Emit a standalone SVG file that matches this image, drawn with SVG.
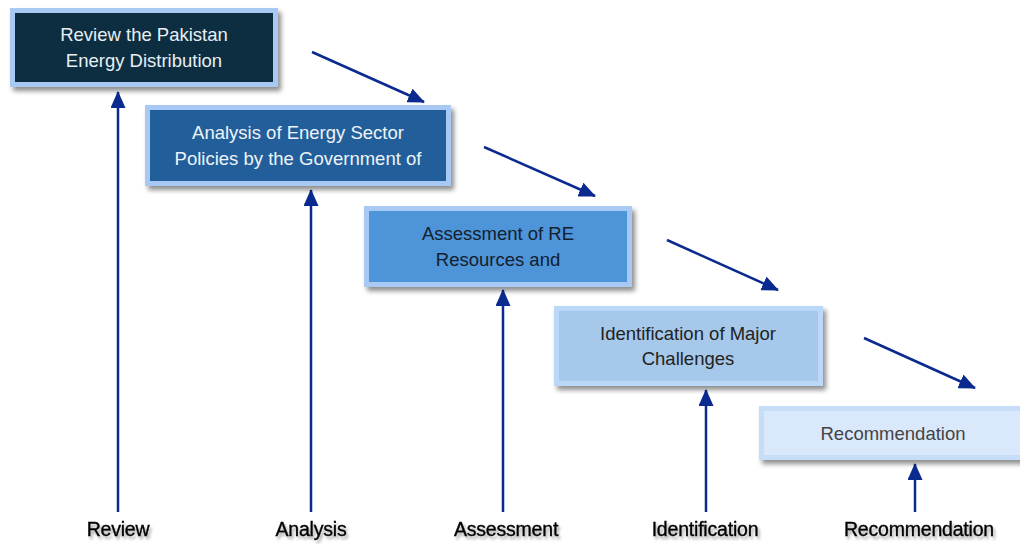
<svg xmlns="http://www.w3.org/2000/svg" width="1020" height="544" viewBox="0 0 1020 544">
<defs>
<filter id="sh" x="-10%" y="-20%" width="125%" height="150%">
<feGaussianBlur in="SourceAlpha" stdDeviation="2.5"/>
<feOffset dx="3" dy="4" result="b"/>
<feComponentTransfer><feFuncA type="linear" slope="0.45"/></feComponentTransfer>
<feMerge><feMergeNode/><feMergeNode in="SourceGraphic"/></feMerge>
</filter>
<filter id="tsh" x="-10%" y="-30%" width="130%" height="180%">
<feGaussianBlur in="SourceAlpha" stdDeviation="1.5"/>
<feOffset dx="2" dy="3"/>
<feComponentTransfer><feFuncA type="linear" slope="0.35"/></feComponentTransfer>
<feMerge><feMergeNode/><feMergeNode in="SourceGraphic"/></feMerge>
</filter>
<marker id="ah2" markerWidth="17" markerHeight="15" viewBox="0 0 17 15" refX="16" refY="7.5" orient="auto" markerUnits="userSpaceOnUse">
<path d="M0,0 L17,7.5 L0,15 z" fill="#0a2a8f"/>
</marker>
</defs>
<style>
.box{stroke-width:5;filter:url(#sh)}
.t{font-family:"Liberation Sans",Arial,sans-serif;font-size:18.5px;text-anchor:middle}
.lbl{font-family:"Liberation Sans",Arial,sans-serif;font-size:19.5px;text-anchor:middle;fill:#000;stroke:#000;stroke-width:0.35;filter:url(#tsh);letter-spacing:-0.2px}
.c{stroke:#0a2a8f;stroke-width:2.5;fill:none}
</style>
<rect width="1020" height="544" fill="#fff"/>
<g id="connectors">
<line class="c" x1="118" y1="512" x2="118" y2="92" marker-end="url(#ah2)"/>
<line class="c" x1="311" y1="512" x2="311" y2="190" marker-end="url(#ah2)"/>
<line class="c" x1="503" y1="512" x2="503" y2="290" marker-end="url(#ah2)"/>
<line class="c" x1="706" y1="512" x2="706" y2="390" marker-end="url(#ah2)"/>
<line class="c" x1="915" y1="512" x2="915" y2="464" marker-end="url(#ah2)"/>
<line class="c" x1="312" y1="52" x2="424" y2="102" marker-end="url(#ah2)"/>
<line class="c" x1="484" y1="147" x2="595" y2="196" marker-end="url(#ah2)"/>
<line class="c" x1="667" y1="240" x2="778" y2="290" marker-end="url(#ah2)"/>
<line class="c" x1="864" y1="338" x2="975" y2="388" marker-end="url(#ah2)"/>
</g>
<g id="n1">
<rect class="box" x="12.5" y="10.5" width="263" height="74" fill="#0f2f40" stroke="#a9c9f5"/>
<text class="t" x="144" y="41" fill="#e8eef4">Review the Pakistan</text>
<text class="t" x="144" y="67" fill="#e8eef4">Energy Distribution</text>
</g>
<g id="n2">
<rect class="box" x="147.5" y="107.5" width="301" height="76" fill="#215f9a" stroke="#a9c9f5"/>
<text class="t" x="298" y="139" fill="#eef3f8">Analysis of Energy Sector</text>
<text class="t" x="298" y="165" fill="#eef3f8">Policies by the Government of</text>
</g>
<g id="n3">
<rect class="box" x="366.5" y="208.5" width="263" height="76" fill="#4d94d9" stroke="#a9c9f5"/>
<text class="t" x="498" y="240" fill="#14202e">Assessment of RE</text>
<text class="t" x="498" y="266" fill="#14202e">Resources and</text>
</g>
<g id="n4">
<rect class="box" x="556.5" y="308.5" width="264" height="75" fill="#a6c8ea" stroke="#bcd8f8"/>
<text class="t" x="688" y="340" fill="#222">Identification of Major</text>
<text class="t" x="688" y="365" fill="#222">Challenges</text>
</g>
<g id="n5">
<rect class="box" x="761.5" y="408.5" width="264" height="49" fill="#dae8fc" stroke="#c6ddf8"/>
<text class="t" x="893" y="440" fill="#444">Recommendation</text>
</g>
<g id="labels">
<text class="lbl" x="118" y="536">Review</text>
<text class="lbl" x="311" y="536">Analysis</text>
<text class="lbl" x="506" y="536">Assessment</text>
<text class="lbl" x="705" y="536">Identification</text>
<text class="lbl" x="919" y="536">Recommendation</text>
</g>
</svg>
